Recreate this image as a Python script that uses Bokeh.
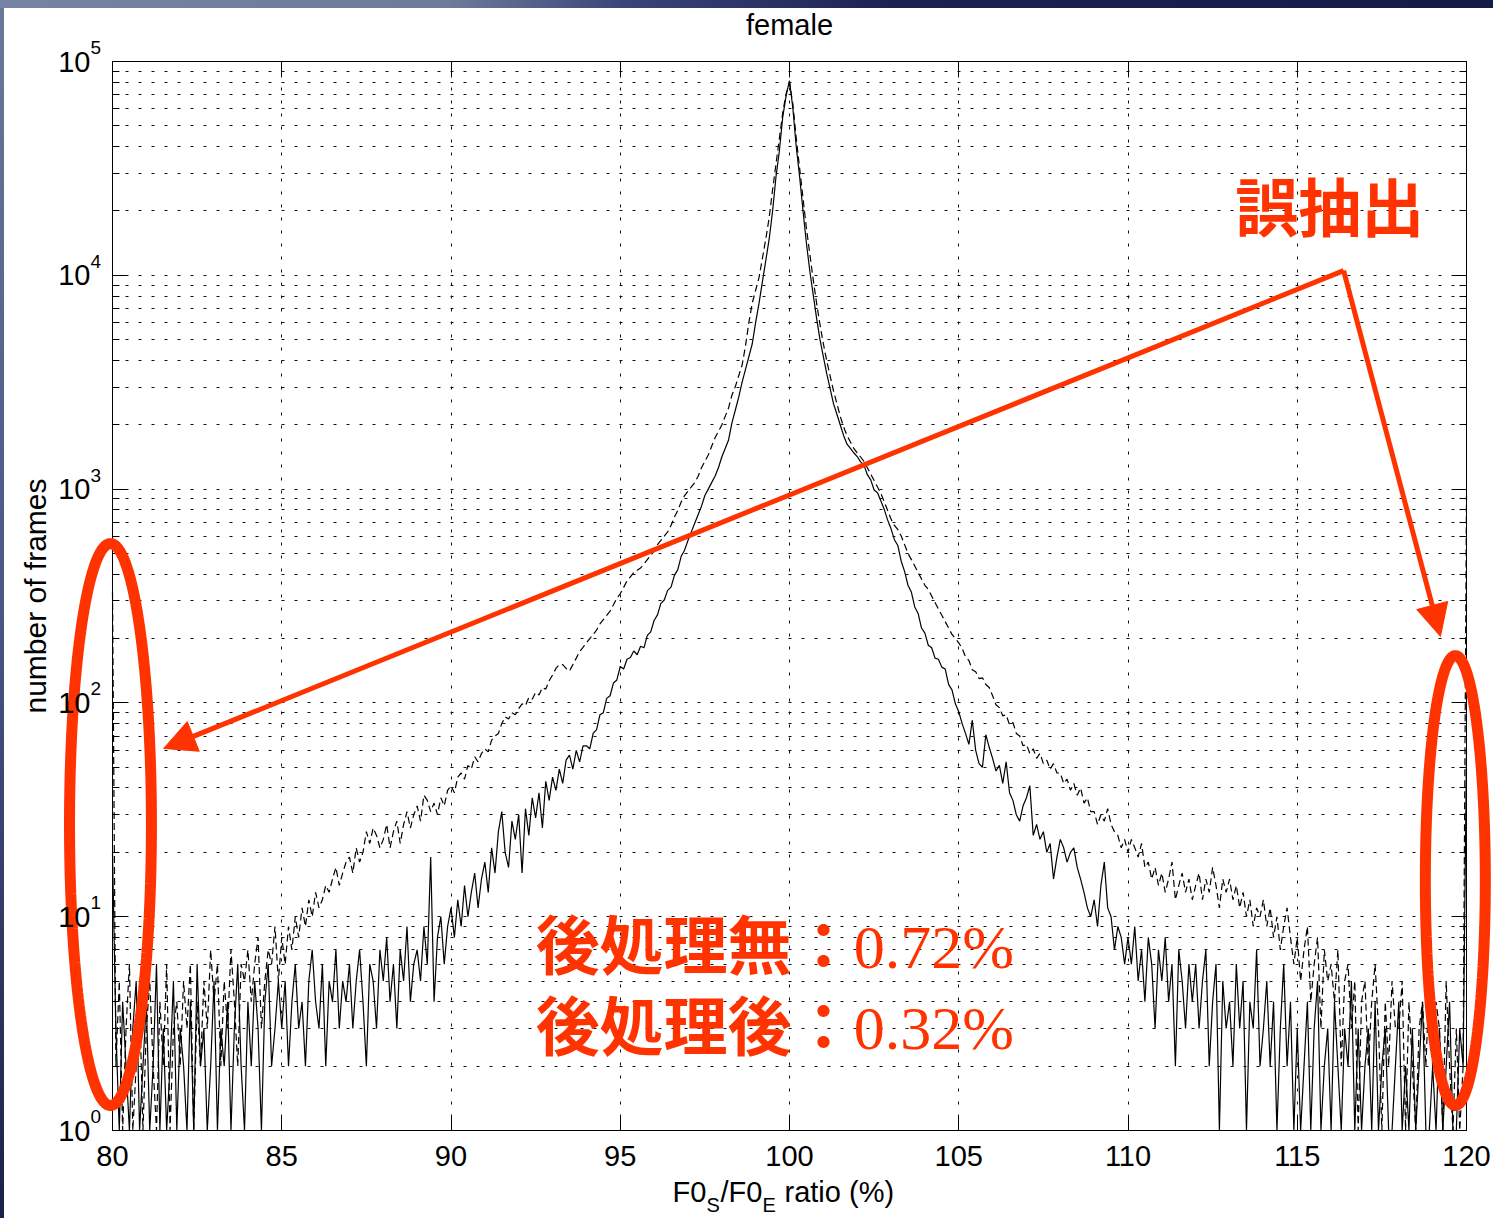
import numpy as np
from bokeh.plotting import figure
from bokeh.models import (Range1d, FixedTicker, LinearAxis, LogAxis, Label, Arrow,
                          NormalHead, BoxAnnotation)
from bokeh.embed import file_html
from bokeh.resources import INLINE

# ---------------- data ----------------
bin_start = 80.0
bin_step = 0.1

# post-processed (solid)
solid_counts = [
    20, 3, 1, 4, 2, 0, 3, 5, 1, 2,
    4, 0, 2, 6, 1, 3, 0, 2, 5, 1,
    3, 2, 0, 4, 1, 6, 2, 3, 0, 2,
    5, 1, 3, 2, 4, 0, 3, 6, 2, 1,
    4, 2, 5, 3, 1, 4, 6, 2, 3, 5,
    3, 5, 2, 4, 6, 3, 4, 2, 5, 7,
    4, 3, 6, 2, 5, 4, 7, 3, 5, 4,
    6, 3, 5, 7, 4, 2, 6, 5, 3, 7,
    5, 8, 4, 6, 3, 7, 5, 9, 4, 6,
    7, 5, 9, 6, 19, 4, 8, 10, 6, 9,
    11, 8, 12, 9, 14, 10, 13, 16, 11, 15,
    18, 13, 21, 16, 25, 31, 20, 17, 28, 23,
    30, 16, 32, 24, 36, 29, 38, 26, 43, 35,
    45, 39, 49, 42, 54, 57, 49, 60, 53, 63,
    63, 61, 72, 75, 88, 90, 105, 108, 124, 128,
    148, 144, 160, 163, 175, 168, 184, 181, 207, 215,
    243, 258, 292, 303, 336, 348, 395, 420, 485, 518,
    575, 631, 692, 759, 832, 933, 1000, 1072, 1148, 1259,
    1413, 1549, 1698, 2042, 2344, 2692, 3162, 3631, 4169, 4786,
    6026, 7413, 9333, 11749, 14791, 19953, 28840, 38019, 54954, 69183,
    81283, 60256, 39811, 28840, 19953, 14125, 10471, 8128, 6310, 5012,
    4169, 3467, 2951, 2512, 2239, 1995, 1778, 1622, 1549, 1479,
    1420, 1340, 1295, 1168, 1105, 990, 962, 880, 802, 716,
    652, 580, 545, 460, 412, 355, 330, 281, 262, 224,
    212, 186, 181, 162, 160, 147, 144, 122, 115, 99,
    91, 80, 72, 64, 83, 60, 52, 50, 71, 62,
    55, 48, 51, 42, 53, 38, 35, 30, 28, 33,
    36, 41, 24, 27, 23, 25, 20, 22, 15, 19,
    23, 21, 18, 20, 21, 17, 15, 13, 11, 10,
    12, 9, 14, 18, 11, 10, 7, 9, 8, 6,
    8, 6, 9, 5, 7, 4, 8, 6, 3, 7,
    5, 8, 4, 6, 2, 7, 5, 3, 6, 4,
    6, 3, 5, 7, 2, 4, 6, 1, 5, 3,
    4, 2, 6, 3, 5, 1, 4, 3, 7, 2,
    3, 5, 2, 4, 0, 3, 6, 2, 4, 1,
    3, 0, 2, 4, 1, 3, 5, 0, 2, 3,
    1, 4, 2, 0, 3, 2, 5, 1, 3, 0,
    2, 3, 1, 4, 0, 2, 3, 1, 0, 2,
    4, 1, 2, 0, 3, 1, 2, 4, 0, 1,
    2, 0, 3, 1, 2, 4, 0, 1, 3, 2,
    60,
]

# without post-processing (dashed)
dashed_counts = [
    330, 2, 5, 1, 3, 6, 0, 2, 4, 1,
    3, 5, 2, 0, 4, 2, 6, 1, 3, 4,
    2, 5, 3, 6, 1, 4, 2, 5, 3, 7,
    4, 6, 2, 5, 3, 7, 4, 2, 6, 5,
    7, 4, 6, 8, 3, 5, 7, 6, 9, 5,
    8, 6, 9, 7, 10, 8, 11, 9, 12, 10,
    13, 11, 12, 14, 13, 15, 17, 14, 16, 18,
    19, 16, 21, 18, 20, 25, 22, 26, 24, 21,
    23, 27, 21, 25, 28, 22, 27, 31, 26, 30,
    33, 28, 37, 35, 31, 34, 30, 36, 33, 39,
    41, 38, 45, 47, 44, 51, 49, 56, 53, 58,
    61, 59, 67, 70, 72, 80, 86, 84, 90, 88,
    94, 99, 97, 106, 104, 112, 109, 118, 116, 127,
    135, 145, 151, 151, 145, 141, 151, 162, 174, 182,
    191, 200, 209, 219, 234, 245, 257, 269, 288, 309,
    324, 347, 372, 389, 407, 417, 427, 447, 468, 490,
    513, 550, 575, 603, 631, 676, 741, 794, 871, 933,
    977, 1023, 1072, 1148, 1259, 1349, 1445, 1585, 1738, 1862,
    1995, 2188, 2399, 2754, 3020, 3388, 3802, 4677, 6026, 7413,
    8511, 9772, 12023, 14791, 18621, 25119, 33113, 43652, 57544, 70795,
    79433, 63096, 43652, 31623, 22909, 16596, 12589, 9550, 7413, 5888,
    4786, 3981, 3388, 2884, 2512, 2188, 1950, 1778, 1660, 1549,
    1479, 1413, 1349, 1259, 1175, 1096, 1023, 955, 871, 794,
    724, 676, 646, 603, 550, 501, 468, 437, 407, 380,
    355, 339, 316, 295, 275, 257, 240, 224, 209, 200,
    191, 180, 164, 158, 143, 140, 130, 131, 122, 118,
    108, 98, 95, 87, 88, 79, 81, 72, 70, 63,
    64, 58, 61, 55, 58, 52, 54, 49, 52, 47,
    47, 42, 44, 39, 42, 37, 40, 34, 36, 31,
    31, 27, 30, 28, 32, 27, 25, 24, 21, 23,
    20, 23, 21, 19, 22, 17, 18, 15, 17, 14,
    16, 13, 15, 18, 12, 14, 16, 13, 15, 12,
    14, 16, 12, 15, 13, 17, 14, 11, 15, 13,
    15, 12, 14, 11, 13, 10, 12, 9, 11, 10,
    12, 9, 11, 8, 10, 7, 9, 11, 8, 6,
    8, 5, 7, 9, 4, 6, 8, 3, 7, 5,
    6, 4, 7, 2, 5, 6, 3, 5, 1, 4,
    5, 2, 4, 6, 3, 1, 4, 2, 5, 3,
    3, 5, 1, 4, 2, 0, 3, 4, 2, 5,
    2, 4, 3, 1, 5, 2, 0, 3, 1, 2,
    930,
]

x_ticks = [80, 85, 90, 95, 100, 105, 110, 115, 120]
y_decades = [0, 1, 2, 3, 4, 5]
title_text = "female"
ylabel_text = "number of frames"
note_title = "誤抽出"
note_rows = [("後処理無：", "0.72%"), ("後処理後：", "0.32%")]

RED = "#ff3300"
SANS = "Liberation Sans"
CJK = "Noto Sans CJK JP"

# ---------------- layout: the frame covers the whole canvas ----------------
W, H = 1493, 1218
BOX_L, BOX_R, BOX_T, BOX_B = 112, 1466, 61, 1130   # pixel edges of the axes box
X0, X1 = 80.0, 120.0
D0, D1 = 0, 5
xpp = (X1 - X0) / (BOX_R - BOX_L)
dpp = (D1 - D0) / (BOX_B - BOX_T)
x_range = Range1d(X0 - BOX_L * xpp, X1 + (W - BOX_R) * xpp)
y_range = Range1d(10 ** (D0 - (H - BOX_B) * dpp), 10 ** (D1 + BOX_T * dpp))

x = np.round(bin_start + bin_step * np.arange(len(solid_counts)), 1)
floor = 10.0 ** D0  # empty bins are drawn down to the bottom of the box


def plot_vals(c):
    c = np.asarray(c, dtype=float)
    return np.where(c > 0, c, floor)


p = figure(width=W, height=H, x_range=x_range, y_range=y_range, y_axis_type="log",
           min_border=0, min_border_left=0, min_border_right=0, min_border_top=0,
           min_border_bottom=0, output_backend="svg", toolbar_location=None,
           background_fill_color=None, border_fill_color=None)
p.outline_line_color = None
p.styles = {
    "background": "linear-gradient(to right, #7584a4 0%, #6d7b9b 30%, #3a4478 42%, #1c2152 60%, #161a46 100%) top left / 100% 8px no-repeat, "
                  "linear-gradient(to bottom, #6a7899 0%, #4b5683 50%, #1b2048 100%) top left / 4px 100% no-repeat, white"
}

xt = FixedTicker(ticks=x_ticks)
yt = FixedTicker(ticks=[10.0 ** d for d in y_decades],
                 minor_ticks=[m * 10.0 ** d for d in y_decades[:-1] for m in range(2, 10)])

xa = p.xaxis[0]
xa.ticker = xt
xa.fixed_location = 10.0 ** D0
xa.bounds = (X0, X1)
xa.major_tick_in = 14
xa.major_tick_out = 0
xa.minor_tick_line_color = None
xa.major_label_text_font = SANS
xa.major_label_text_font_size = "29px"
xa.major_label_text_color = "black"
xa.major_label_standoff = 15
xa.axis_line_color = "black"

ya = p.yaxis[0]
ya.ticker = yt
ya.fixed_location = X0
ya.bounds = (10.0 ** D0, 10.0 ** D1)
ya.major_tick_in = 14
ya.major_tick_out = 0
ya.minor_tick_in = 7
ya.minor_tick_out = 0
ya.major_label_text_color = None
ya.axis_line_color = "black"

top = LinearAxis(ticker=xt, fixed_location=10.0 ** D1, bounds=(X0, X1), major_tick_in=14,
                 major_tick_out=0, minor_tick_line_color=None, major_label_text_color=None)
p.add_layout(top, "above")
right = LogAxis(ticker=yt, fixed_location=X1, bounds=(10.0 ** D0, 10.0 ** D1), major_tick_in=14,
                major_tick_out=0, minor_tick_in=7, minor_tick_out=0, major_label_text_color=None)
p.add_layout(right, "right")

for g in (p.xgrid[0], p.ygrid[0]):
    g.grid_line_color = "#111111"
    g.grid_line_dash = "3 10"
    g.grid_line_width = 1
p.ygrid[0].minor_grid_line_color = "#111111"
p.ygrid[0].minor_grid_line_dash = "3 10"
p.ygrid[0].minor_grid_line_width = 1

try:
    p.xgrid[0].cross_bounds = (10.0 ** D0, 10.0 ** D1)
    p.ygrid[0].cross_bounds = (X0, X1)
except Exception:
    # mask the grid outside the box with white
    xl = X0 - (BOX_L - 4) * xpp
    yt8 = 10 ** (D1 + (BOX_T - 8) * dpp)
    for kw in [dict(top=10.0 ** D0, left=xl), dict(bottom=10.0 ** D1, top=yt8, left=xl),
               dict(right=X0, left=xl, top=yt8), dict(left=X1, top=yt8)]:
        p.add_layout(BoxAnnotation(fill_color="white", fill_alpha=1, line_color=None,
                                   level="underlay", **kw))

# ---------------- data lines ----------------
p.line(x, plot_vals(dashed_counts), line_color="black", line_width=1.2, line_dash="7 4")
p.line(x, plot_vals(solid_counts), line_color="black", line_width=1.2)

# ---------------- red annotations ----------------
t = np.linspace(0, 2 * np.pi, 240)
for cx, ax, lc, al in [(79.94, 1.21, 1.431, 1.314), (119.67, 0.886, 1.169, 1.052)]:
    p.line(cx + ax * np.cos(t), 10 ** (lc + al * np.sin(t)), line_color=RED, line_width=11,
           level="overlay")

arrow_start = (116.37, 10 ** 4.022)
for (xe, ye) in [(81.51, 10 ** 1.787), (119.23, 10 ** 2.311)]:
    p.add_layout(Arrow(x_start=arrow_start[0], y_start=arrow_start[1], x_end=xe, y_end=ye,
                       line_color=RED, line_width=5, level="overlay",
                       end=NormalHead(size=32, fill_color=RED, line_color=RED, line_width=1)))

# ---------------- texts ----------------
def add_label(**kw):
    kw.setdefault("level", "overlay")
    p.add_layout(Label(**kw))


for d in y_decades:
    add_label(x=X0, y=10.0 ** d, x_offset=-22, text="10", text_align="right",
              text_baseline="middle", text_font=SANS, text_font_size="29px", text_color="black")
    add_label(x=X0, y=10.0 ** d, x_offset=-22, y_offset=14, text=str(d), text_align="left",
              text_baseline="middle", text_font=SANS, text_font_size="19px", text_color="black")

add_label(x=100, y=10.0 ** D1, y_offset=37, text=title_text, text_align="center",
          text_baseline="middle", text_font=SANS, text_font_size="29px", text_color="black")
add_label(x=X0, y=10 ** 2.5, x_offset=-77, angle=np.pi / 2, text=ylabel_text,
          text_align="center", text_baseline="middle", text_font=SANS, text_font_size="30px",
          text_color="black")

# x label: F0_S / F0_E ratio (%)
xl_parts = [("F0", -117, -61, "29px"), ("S", -83, -74, "20px"), ("/F0", -69, -61, "29px"),
            ("E", -27, -74, "20px"), ("ratio (%)", -5, -61, "29px")]
for txt, dx, dy, fs in xl_parts:
    add_label(x=100, y=10.0 ** D0, x_offset=dx, y_offset=dy, text=txt, text_align="left",
              text_baseline="middle", text_font=SANS, text_font_size=fs, text_color="black")

add_label(x=113.17, y=10 ** 4.317, y_offset=4, text=note_title, text_align="left",
          text_baseline="middle", text_font=CJK, text_font_style="bold",
          text_font_size="63px", text_color=RED)
row_y = [10 ** 0.8653, 10 ** 0.4911]
for (lab, pct), yc in zip(note_rows, row_y):
    add_label(x=92.5, y=yc, y_offset=4, text=lab, text_align="left", text_baseline="middle",
              text_font=CJK, text_font_style="bold", text_font_size="64px", text_color=RED)
    add_label(x=92.5, y=yc, x_offset=318, y_offset=-2, text=pct, text_align="left",
              text_baseline="middle", text_font="Liberation Serif", text_font_size="62px",
              text_color=RED)

open("out.html", "w").write(file_html(p, INLINE))
